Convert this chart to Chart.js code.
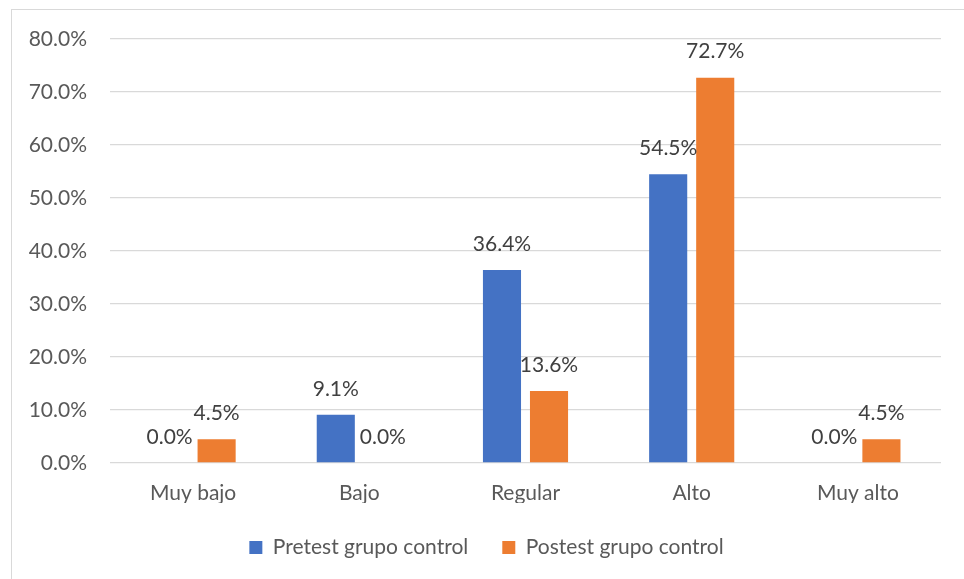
<!DOCTYPE html>
<html>
<head>
<meta charset="utf-8">
<script src="https://cdn.jsdelivr.net/npm/chart.js@4.4.0/dist/chart.umd.min.js"></script>
<style>
  html, body { margin: 0; padding: 0; background: #fff; overflow: hidden; }
  #marco { position: absolute; left: 11px; top: 9px; width: 1000px; height: 1000px;
           border-left: 1px solid #d9d9d9; border-top: 1px solid #d9d9d9; }
  #wrap { position: absolute; left: 0; top: 0; width: 964px; height: 579px; }
</style>
</head>
<body>
<div id="marco"></div>
<div id="wrap"><canvas id="chart" width="964" height="579"></canvas></div>
<script>
const categorias = ['Muy bajo', 'Bajo', 'Regular', 'Alto', 'Muy alto']
const pretest = [0.0, 9.1, 36.4, 54.5, 0.0]
const postest = [4.5, 0.0, 13.6, 72.7, 4.5]

const chartCanvas = document.getElementById("chart")

// etiquetas de datos encima de cada barra
const etiquetas = {
  id: 'etiquetas',
  afterDatasetsDraw(chart) {
    const ctx = chart.ctx
    ctx.save()
    ctx.font = '21px Lato'
    ctx.fillStyle = '#404040'
    ctx.textAlign = 'center'
    ctx.textBaseline = 'middle'
    chart.data.datasets.forEach((ds, i) => {
      chart.getDatasetMeta(i).data.forEach((bar, j) => {
        ctx.fillText(ds.data[j].toFixed(1) + '%', bar.x, bar.y - 26)
      })
    })
    ctx.restore()
  }
}

// la leyenda va un poco a la derecha, como en el original
const moverLeyenda = {
  id: 'moverLeyenda',
  afterLayout(chart) {
    chart.legend.left += 16
    chart.legend.right += 16
  }
}

let chart = new Chart(chartCanvas, {
  type: 'bar',
  data: {
    labels: categorias,
    datasets: [
      { label: 'Pretest grupo control', data: pretest, backgroundColor: '#4472C4',
        categoryPercentage: 0.566, barPercentage: 0.81 },
      { label: 'Postest grupo control', data: postest, backgroundColor: '#ED7D31',
        categoryPercentage: 0.566, barPercentage: 0.81 }
    ]
  },
  options: {
    responsive: false,
    animation: false,
    layout: { padding: { left: 0, right: 23, top: 39, bottom: 11 } },
    plugins: {
      tooltip: { enabled: false },
      legend: {
        position: 'bottom',
        maxHeight: 80,
        labels: { font: { family: 'Lato', size: 21 }, color: '#595959',
                  boxWidth: 13, boxHeight: 13, padding: 34 }
      }
    },
    scales: {
      x: {
        grid: { display: false },
        border: { display: false },
        ticks: { font: { family: 'Lato', size: 21 }, color: '#595959', padding: 10 },
        afterFit(scale) { scale.height = 40 }
      },
      y: {
        min: 0, max: 80,
        grid: { color: '#d9d9d9', lineWidth: 1.3, drawTicks: false },
        border: { display: false },
        ticks: { stepSize: 10, font: { family: 'Lato', size: 21 }, color: '#595959', padding: 23,
                 callback: v => v.toFixed(1) + '%' },
        afterFit(scale) { scale.width = 110 }
      }
    }
  },
  plugins: [etiquetas, moverLeyenda]
})
</script>
</body>
</html>
